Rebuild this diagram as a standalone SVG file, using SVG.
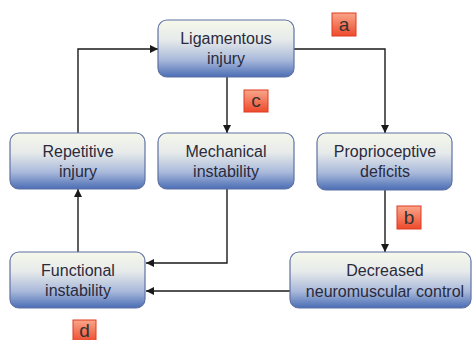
<svg xmlns="http://www.w3.org/2000/svg" width="472" height="340" viewBox="0 0 472 340">
<defs>
<linearGradient id="boxg" x1="0" y1="0" x2="0" y2="1">
<stop offset="0" stop-color="#f6f8ea"/>
<stop offset="0.35" stop-color="#e6eaea"/>
<stop offset="0.7" stop-color="#a9b9da"/>
<stop offset="1" stop-color="#4a6db5"/>
</linearGradient>
<linearGradient id="tagg" x1="0" y1="0" x2="0" y2="1">
<stop offset="0" stop-color="#f9a68a"/>
<stop offset="1" stop-color="#ee4a2c"/>
</linearGradient>
<marker id="arr" viewBox="0 0 10 10" refX="10" refY="5" markerWidth="8" markerHeight="8" markerUnits="userSpaceOnUse" orient="auto">
<path d="M0,0 L10,5 L0,10 z" fill="#1a1a1a"/>
</marker>
</defs>
<style>
.box{fill:url(#boxg);stroke:#5f71a3;stroke-width:1.2}
.t{font-family:"Liberation Sans",Arial,sans-serif;font-size:16px;fill:#2a2a3c;text-anchor:middle}
.tag{fill:url(#tagg);stroke:#e03a22;stroke-width:1}
.tt{font-family:"Liberation Sans",Arial,sans-serif;font-size:19px;fill:#333;text-anchor:middle}
.c{fill:none;stroke:#1a1a1a;stroke-width:1.4;marker-end:url(#arr)}
</style>
<rect width="472" height="340" fill="#ffffff"/>
<g id="connectors">
<path class="c" d="M294,49 H385 V133"/>
<path class="c" d="M227,77 V133"/>
<path class="c" d="M227,189 V263 H146"/>
<path class="c" d="M290,291 H146"/>
<path class="c" d="M385,190 V252"/>
<path class="c" d="M78,252 V189"/>
<path class="c" d="M78,133 V49 H158"/>
</g>
<g id="ligamentous">
<rect class="box" x="158" y="20" width="136" height="57" rx="9"/>
<text class="t" x="226" y="44">Ligamentous</text>
<text class="t" x="226" y="64">injury</text>
</g>
<g id="repetitive">
<rect class="box" x="10" y="133" width="135" height="56" rx="9"/>
<text class="t" x="78" y="157">Repetitive</text>
<text class="t" x="78" y="177">injury</text>
</g>
<g id="mechanical">
<rect class="box" x="158" y="133" width="136" height="56" rx="9"/>
<text class="t" x="226" y="157">Mechanical</text>
<text class="t" x="226" y="177">instability</text>
</g>
<g id="proprioceptive">
<rect class="box" x="317" y="133" width="135" height="57" rx="9"/>
<text class="t" x="385" y="157">Proprioceptive</text>
<text class="t" x="385" y="177">deficits</text>
</g>
<g id="functional">
<rect class="box" x="10" y="252" width="135" height="56" rx="9"/>
<text class="t" x="78" y="276">Functional</text>
<text class="t" x="78" y="296">instability</text>
</g>
<g id="decreased">
<rect class="box" x="290" y="252" width="181" height="56" rx="9"/>
<text class="t" x="385" y="276">Decreased</text>
<text class="t" x="385" y="297">neuromuscular control</text>
</g>
<g id="tag-a">
<rect class="tag" x="332" y="13" width="24" height="23"/>
<text class="tt" x="344" y="31">a</text>
</g>
<g id="tag-c">
<rect class="tag" x="244" y="90" width="24" height="22"/>
<text class="tt" x="256" y="107">c</text>
</g>
<g id="tag-b">
<rect class="tag" x="397" y="206" width="24" height="23"/>
<text class="tt" x="409" y="224">b</text>
</g>
<g id="tag-d">
<rect class="tag" x="73" y="320" width="23" height="22"/>
<text class="tt" x="84.5" y="337">d</text>
</g>
</svg>
